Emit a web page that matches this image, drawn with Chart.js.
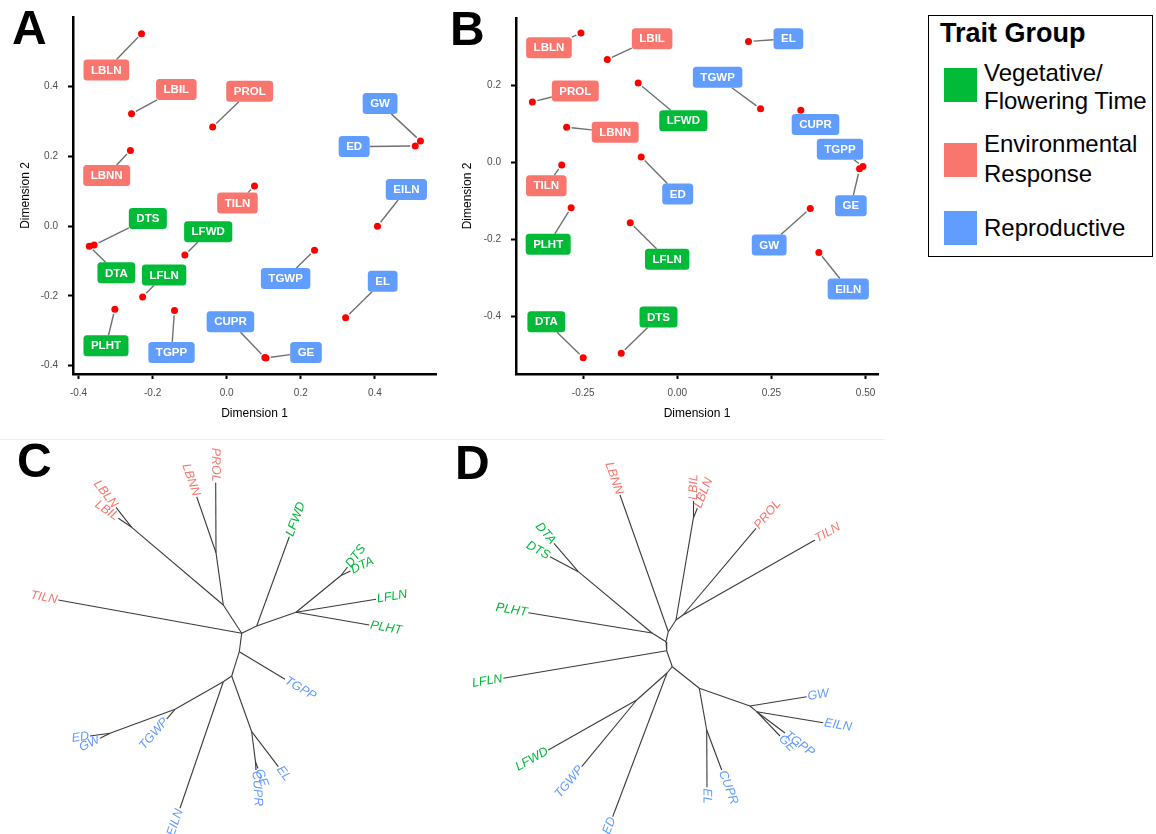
<!DOCTYPE html>
<html>
<head>
<meta charset="utf-8">
<script src="https://cdn.jsdelivr.net/npm/chart.js@4.4.1/dist/chart.umd.min.js"></script>
<style>
  body { margin: 0; background: #fff; width: 1156px; height: 834px; position: relative; overflow: hidden;
         font-family: 'Liberation Sans', Arial, Helvetica, sans-serif; }
  canvas { position: absolute; }
  .letter { position: absolute; font-weight: bold; font-size: 48px; line-height: 48px; color: #000; }
  .sep { position: absolute; height: 1px; background: #f0f0f0; top: 439px; }
  #legend { position: absolute; left: 928px; top: 15px; width: 225px; height: 242px; box-sizing: border-box; border: 1.5px solid #000; }
  .lg { position: absolute; white-space: nowrap; color: #000; }
  .lgt { font-size: 24px; line-height: 29px; }
  .sw { position: absolute; width: 33px; height: 34px; }
</style>
</head>
<body>
<div class="sep" style="left:0;width:440px"></div>
<div class="sep" style="left:440px;width:445px"></div>

<canvas id="mdsA" width="440" height="430" style="left:0;top:0"></canvas>
<canvas id="mdsB" width="445" height="430" style="left:440px;top:0"></canvas>
<canvas id="treeC" width="440" height="394" style="left:0;top:440px"></canvas>
<canvas id="treeD" width="445" height="394" style="left:440px;top:440px"></canvas>

<div class="letter" style="left:12px;top:4px">A</div>
<div class="letter" style="left:450px;top:5px">B</div>
<div class="letter" style="left:17px;top:437px">C</div>
<div class="letter" style="left:455px;top:439px">D</div>

<div id="legend"></div>
<div class="lg" style="left:940px;top:20px;font-size:27px;line-height:27px;font-weight:bold">Trait Group</div>
<div class="sw" style="left:944px;top:68px;background:#00BA38"></div>
<div class="sw" style="left:944px;top:143px;background:#F8766D"></div>
<div class="sw" style="left:944px;top:211px;background:#619CFF"></div>
<div class="lg lgt" style="left:984px;top:58px">Vegetative/</div>
<div class="lg lgt" style="left:984px;top:86px">Flowering Time</div>
<div class="lg lgt" style="left:984px;top:129px">Environmental</div>
<div class="lg lgt" style="left:984px;top:159px">Response</div>
<div class="lg lgt" style="left:984px;top:213px">Reproductive</div>

<script>
const family = "'Liberation Sans', Arial, Helvetica, sans-serif"
Chart.defaults.font.family = family

// traits and their group
const traits = ['LBLN', 'LBIL', 'PROL', 'LBNN', 'TILN', 'DTS', 'DTA', 'LFWD', 'LFLN', 'PLHT',
                'GW', 'ED', 'EILN', 'TGWP', 'EL', 'TGPP', 'CUPR', 'GE']
const traitGroup = ['env', 'env', 'env', 'env', 'env', 'veg', 'veg', 'veg', 'veg', 'veg',
                    'rep', 'rep', 'rep', 'rep', 'rep', 'rep', 'rep', 'rep']
const groupColor = { veg: '#00BA38', env: '#F8766D', rep: '#619CFF' }

// panel A: MDS coordinates
const aDim1 = [-0.230, -0.257, -0.038, -0.260, 0.075, -0.358, -0.371, -0.113, -0.227, -0.302,
               0.523, 0.509, 0.407, 0.237, 0.321, -0.141, 0.103, 0.106]
const aDim2 = [0.552, 0.322, 0.284, 0.217, 0.115, -0.054, -0.058, -0.083, -0.203, -0.238,
               0.244, 0.230, 0.000, -0.069, -0.263, -0.242, -0.377, -0.378]
// where the repelled labels sit (data units)
const aLabDim1 = [-0.325, -0.136, 0.062, -0.324, 0.029, -0.213, -0.298, -0.050, -0.169, -0.326,
                  0.414, 0.344, 0.485, 0.159, 0.421, -0.149, 0.010, 0.214]
const aLabDim2 = [0.448, 0.392, 0.387, 0.145, 0.066, 0.022, -0.134, -0.016, -0.140, -0.343,
                  0.352, 0.228, 0.105, -0.150, -0.158, -0.362, -0.274, -0.362]
const aXTicks = [-0.4, -0.2, 0, 0.2, 0.4]
const aXTickLabels = ['-0.4', '-0.2', '0.0', '0.2', '0.4']
const aYTicks = [-0.4, -0.2, 0, 0.2, 0.4]
const aYTickLabels = ['-0.4', '-0.2', '0.0', '0.2', '0.4']

// panel B: MDS coordinates
const bDim1 = [-0.256, -0.186, -0.385, -0.294, -0.307, -0.149, -0.250, -0.104, -0.125, -0.282,
               0.353, -0.096, 0.376, 0.221, 0.189, 0.493, 0.328, 0.484]
const bDim2 = [0.337, 0.268, 0.158, 0.092, -0.006, -0.495, -0.507, 0.207, -0.156, -0.117,
               -0.119, 0.015, -0.233, 0.140, 0.315, -0.010, 0.136, -0.016]
const bLabDim1 = [-0.341, -0.067, -0.271, -0.165, -0.348, -0.050, -0.348, 0.016, -0.027, -0.343,
                  0.244, 0.001, 0.454, 0.107, 0.295, 0.432, 0.367, 0.461]
const bLabDim2 = [0.299, 0.322, 0.186, 0.079, -0.060, -0.401, -0.413, 0.109, -0.251, -0.212,
                  -0.214, -0.081, -0.328, 0.222, 0.322, 0.035, 0.099, -0.112]
const bXTicks = [-0.25, 0, 0.25, 0.5]
const bXTickLabels = ['-0.25', '0.00', '0.25', '0.50']
const bYTicks = [-0.4, -0.2, 0, 0.2]
const bYTickLabels = ['-0.4', '-0.2', '0.0', '0.2']

// tree C (unrooted), node coordinates and parent of each node
const cNode = ['n1', 'TILN', 'r1', 'LL', 'LBLN', 'LBIL', 'LP', 'LBNN', 'PROL', 'g1', 'LFWD', 'g2',
               'DD', 'DTS', 'DTA', 'LFLN', 'PLHT', 'b1', 'TGPP', 'b2', 'e', 'EILN', 't', 'TGWP',
               'eg', 'ED', 'GW', 'c', 'EL', 'cg', 'CUPR', 'GE']
const cParent = [null, 'n1', 'n1', 'r1', 'LL', 'LL', 'r1', 'LP', 'LP', 'n1', 'g1', 'g1',
                 'g2', 'DD', 'DD', 'g2', 'g2', 'n1', 'b1', 'b1', 'b2', 'e', 'e', 't',
                 't', 'eg', 'eg', 'b2', 'c', 'c', 'cg', 'cg']
const cX = [0, -183.4, -18.4, -110, -125.7, -123.4, -25.7, -45, -26, 15, 47.6, 54.3,
            99.3, 105.8, 108.8, 134.3, 127.6, -2.4, 43.3, -10, -18.4, -61.7, -66.7, -74.9,
            -131.7, -151.7, -141.7, 10, 36.6, 13.8, 14.3, 16.3]
const cY = [0, 33.3, 28.3, 106, 126, 115, 80.6, 136.6, 150.6, 7.3, 96.6, 21,
            57.8, 66.3, 62.3, 34, 8.3, -18.4, -46, -42.7, -48.4, -175, -76, -85.5,
            -100, -102.7, -105, -98.4, -133.4, -128.7, -136.7, -135.2]

// tree D
const dNode = ['a1', 'LBNN', 'red2', 'LL', 'LBIL', 'LBLN', 'pt', 'PROL', 'TILN', 'a2', 'pd', 'PLHT',
               'dd', 'DTA', 'DTS', 'a3', 'LFLN', 'a4', 'dl', 'ED', 'LT', 'LFWD', 'TGWP', 'br',
               'el', 'EL', 'CUPR', 'gw', 'GW', 'eg', 'EILN', 'GE', 'TGPP']
const dParent = [null, 'a1', 'a1', 'red2', 'LL', 'LL', 'red2', 'pt', 'pt', 'a1', 'a2', 'pd',
                 'pd', 'dd', 'dd', 'a2', 'a3', 'a3', 'a4', 'dl', 'dl', 'LT', 'LT', 'a4',
                 'br', 'el', 'el', 'br', 'gw', 'gw', 'eg', 'eg', 'eg']
const dX = [0.3, -48, 8, 25.3, 25.5, 29.3, 15, 88, 147, -2, -16, -139.7,
            -89.7, -114, -118, -1.3, -164.7, 4.3, -1, -55.3, -31.3, -119.7, -86.3, 31.3,
            38.7, 39, 53.7, 82, 138.7, 88.7, 155.3, 112, 117]
const dY = [18.3, 155, 30, 131.7, 149, 141.7, 35, 121.7, 110, 8.3, 17, 37.3,
            78.3, 106.7, 93.3, -0.7, -28.3, -16.7, -23, -166.7, -50, -100, -116.7, -38.3,
            -80, -137.3, -120, -56, -46.7, -61.7, -72.7, -86, -83]

function roundRect(ctx, x, y, w, h, r) {
  ctx.beginPath()
  ctx.moveTo(x + r, y)
  ctx.lineTo(x + w - r, y)
  ctx.arcTo(x + w, y, x + w, y + r, r)
  ctx.lineTo(x + w, y + h - r)
  ctx.arcTo(x + w, y + h, x + w - r, y + h, r)
  ctx.lineTo(x + r, y + h)
  ctx.arcTo(x, y + h, x, y + h - r, r)
  ctx.lineTo(x, y + r)
  ctx.arcTo(x, y, x + r, y, r)
  ctx.closePath()
}

function mdsChart(id, xs, ys, labX, labY, lim, xTicks, xTickLabels, yTicks, yTickLabels, yAxisW, yTitlePad, pad) {
  const labelFont = 'bold 11.5px ' + family

  const repel = {
    id: 'repel',
    beforeDatasetsDraw(chart) {
      const ctx = chart.ctx, sx = chart.scales.x, sy = chart.scales.y
      ctx.save()
      ctx.font = labelFont
      ctx.strokeStyle = '#707070'
      ctx.lineWidth = 1.4
      traits.forEach((t, i) => {
        const px = sx.getPixelForValue(xs[i]), py = sy.getPixelForValue(ys[i])
        const bx = sx.getPixelForValue(labX[i]), by = sy.getPixelForValue(labY[i])
        const hw = (ctx.measureText(t).width + 15) / 2, hh = 10.5
        const dx = px - bx, dy = py - by
        const k = Math.min(dx ? hw / Math.abs(dx) : Infinity, dy ? hh / Math.abs(dy) : Infinity)
        if (k >= 1) return
        const ex = bx + dx * k, ey = by + dy * k
        const len = Math.hypot(px - ex, py - ey)
        const gap = 5
        if (len - gap < 2) return
        const f = (len - gap) / len
        ctx.beginPath()
        ctx.moveTo(ex, ey)
        ctx.lineTo(ex + (px - ex) * f, ey + (py - ey) * f)
        ctx.stroke()
      })
      ctx.restore()
    },
    afterDatasetsDraw(chart) {
      const ctx = chart.ctx, sx = chart.scales.x, sy = chart.scales.y
      ctx.save()
      ctx.font = labelFont
      ctx.textAlign = 'center'
      ctx.textBaseline = 'middle'
      traits.forEach((t, i) => {
        const bx = sx.getPixelForValue(labX[i]), by = sy.getPixelForValue(labY[i])
        const w = ctx.measureText(t).width + 15, h = 21
        roundRect(ctx, bx - w / 2, by - h / 2, w, h, 3.5)
        ctx.fillStyle = groupColor[traitGroup[i]]
        ctx.fill()
        ctx.fillStyle = '#fff'
        ctx.fillText(t, bx, by + 0.5)
      })
      ctx.restore()
    }
  }

  const axisCommon = {
    type: 'linear',
    grid: { drawOnChartArea: false, drawTicks: true, tickLength: 5, tickColor: '#000', tickWidth: 2 },
    border: { display: true, color: '#000', width: 2.5 }
  }

  return new Chart(document.getElementById(id), {
    type: 'scatter',
    data: {
      datasets: [{
        data: xs.map((x, i) => ({ x, y: ys[i] })),
        backgroundColor: '#ff0000',
        borderColor: '#ff0000',
        borderWidth: 0,
        pointRadius: 3.5,
        clip: false
      }]
    },
    options: {
      responsive: false,
      animation: false,
      events: [],
      layout: { padding: pad },
      plugins: { legend: { display: false }, tooltip: { enabled: false } },
      scales: {
        x: {
          ...axisCommon,
          min: lim[0], max: lim[1],
          afterFit: s => { s.height = 56 },
          afterBuildTicks: s => { s.ticks = xTicks.map(v => ({ value: v })) },
          ticks: { callback: (v, i) => xTickLabels[i], font: { size: 10 }, color: '#4d4d4d', padding: 8, maxRotation: 0, autoSkip: false },
          title: { display: true, text: 'Dimension 1', color: '#000', font: { size: 12 }, padding: { top: 0, bottom: 9 } }
        },
        y: {
          ...axisCommon,
          min: lim[2], max: lim[3],
          afterFit: s => { s.width = yAxisW },
          afterBuildTicks: s => { s.ticks = yTicks.map(v => ({ value: v })) },
          ticks: { callback: (v, i) => yTickLabels[i], font: { size: 10 }, color: '#4d4d4d', padding: 10, autoSkip: false },
          title: { display: true, text: 'Dimension 2', color: '#000', font: { size: 12 }, padding: { top: yTitlePad, bottom: 0 } }
        }
      }
    },
    plugins: [repel]
  })
}

function treeChart(id, names, xs, ys, parents, lim) {
  const datasets = []
  names.forEach((n, i) => {
    if (parents[i] === null) return
    const j = names.indexOf(parents[i])
    datasets.push({
      data: [{ x: xs[j], y: ys[j] }, { x: xs[i], y: ys[i] }],
      showLine: true,
      borderColor: '#3a3a3a',
      borderWidth: 1.1,
      pointRadius: 0,
      clip: false
    })
  })

  // tip labels run outward along the branch, italic like ape's plot.phylo
  const tipLabels = {
    id: 'tipLabels',
    afterDatasetsDraw(chart) {
      const ctx = chart.ctx, sx = chart.scales.x, sy = chart.scales.y
      ctx.save()
      ctx.font = 'italic 12.5px ' + family
      ctx.textBaseline = 'middle'
      names.forEach((n, i) => {
        const k = traits.indexOf(n)
        if (k < 0) return
        const j = names.indexOf(parents[i])
        const tx = sx.getPixelForValue(xs[i]), ty = sy.getPixelForValue(ys[i])
        const ang = Math.atan2(ty - sy.getPixelForValue(ys[j]), tx - sx.getPixelForValue(xs[j]))
        ctx.save()
        ctx.translate(tx, ty)
        ctx.fillStyle = groupColor[traitGroup[k]]
        if (Math.cos(ang) >= 0) {
          ctx.rotate(ang)
          ctx.textAlign = 'left'
          ctx.fillText(n, 1, 0)
        } else {
          ctx.rotate(ang + Math.PI)
          ctx.textAlign = 'right'
          ctx.fillText(n, -1, 0)
        }
        ctx.restore()
      })
      ctx.restore()
    }
  }

  return new Chart(document.getElementById(id), {
    type: 'scatter',
    data: { datasets },
    options: {
      responsive: false,
      animation: false,
      events: [],
      layout: { padding: 0 },
      plugins: { legend: { display: false }, tooltip: { enabled: false } },
      scales: {
        x: { type: 'linear', display: false, min: lim[0], max: lim[1] },
        y: { type: 'linear', display: false, min: lim[2], max: lim[3] }
      }
    },
    plugins: [tipLabels]
  })
}

mdsChart('mdsA', aDim1, aDim2, aLabDim1, aLabDim2, [-0.415, 0.565, -0.424, 0.5997],
  aXTicks, aXTickLabels, aYTicks, aYTickLabels, 73, 18.5, { left: 0, top: 17, right: 4, bottom: 0 })
mdsChart('mdsB', bDim1, bDim2, bLabDim1, bLabDim2, [-0.4285, 0.533, -0.549, 0.376],
  bXTicks, bXTickLabels, bYTicks, bYTickLabels, 76, 20.5, { left: 0, top: 18, right: 7, bottom: 0 })

treeChart('treeC', cNode, cX, cY, cParent, [-241.7, 198.3, -200.7, 193.3])
treeChart('treeD', dNode, dX, dY, dParent, [-228, 217, -184, 210])
</script>
</body>
</html>
